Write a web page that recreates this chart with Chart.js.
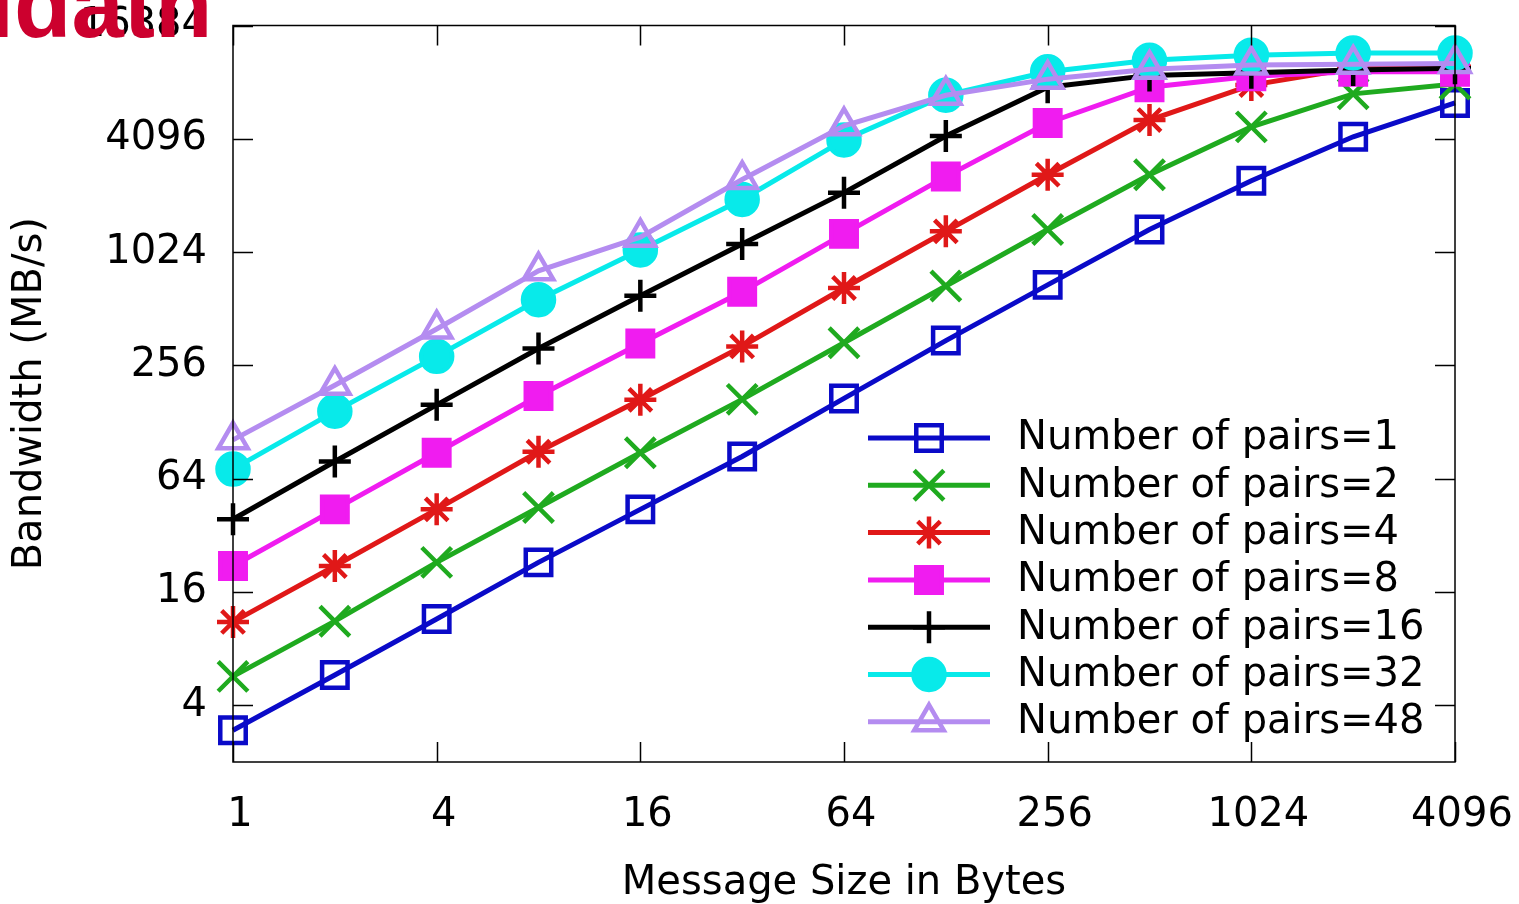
<!DOCTYPE html>
<html>
<head>
<meta charset="utf-8">
<script src="https://cdn.jsdelivr.net/npm/chart.js@4.4.1/dist/chart.umd.min.js"></script>
<style>
  html, body { margin: 0; padding: 0; background: #fff; }
  #wrap { position: relative; width: 1519px; height: 904px; overflow: hidden; }
  #c { position: absolute; left: 0; top: 0; }
  #mark { position: absolute; left: -12px; top: -42px; font-family: "Liberation Sans", Arial, sans-serif; font-weight: bold;
          font-size: 94px; line-height: 94px; color: #cc002e; z-index: 2; white-space: nowrap; }
</style>
</head>
<body>
<div id="wrap">
  <canvas id="c" width="1519" height="904"></canvas>
  <div id="mark">idatn</div>
</div>
<script>
// ---- data ----
const messageSizes = [1, 2, 4, 8, 16, 32, 64, 128, 256, 512, 1024, 2048, 4096];
const pairs1  = [2.95, 5.8, 11.5, 23, 44, 84, 171, 347, 686, 1350, 2450, 4200, 6350];
const pairs2  = [5.7, 11.2, 23, 45, 88, 169, 338, 676, 1350, 2640, 4740, 7100, 8000];
const pairs4  = [11.1, 22, 44, 89, 168, 323, 660, 1320, 2640, 5150, 7900, 9700, 9900];
const pairs8  = [22, 44, 88, 176, 335, 630, 1280, 2580, 4970, 7700, 8800, 9300, 9300];
const pairs16 = [39, 79, 158, 315, 600, 1130, 2120, 4240, 7700, 8900, 9200, 9500, 9700];
const pairs32 = [72, 146, 286, 572, 1050, 1950, 4040, 6980, 9300, 10700, 11400, 11700, 11700];
const pairs48 = [103, 201, 400, 814, 1230, 2490, 4800, 6980, 8500, 9600, 10100, 10200, 10300];
const seriesLabels = ['Number of pairs=1', 'Number of pairs=2', 'Number of pairs=4', 'Number of pairs=8',
                      'Number of pairs=16', 'Number of pairs=32', 'Number of pairs=48'];
const xTickValues = [1, 4, 16, 64, 256, 1024, 4096];
const yTickValues = [4, 16, 64, 256, 1024, 4096, 16384];

// ---- styles ----
const seriesValues = [pairs1, pairs2, pairs4, pairs8, pairs16, pairs32, pairs48];
const styles = [
  { color: '#0a0ac8', style: 'rect',     radius: 18,   fill: false },
  { color: '#1faa1f', style: 'crossRot', radius: 21,   fill: false },
  { color: '#e01818', style: 'star',     radius: 16,   fill: true  },
  { color: '#f01cf0', style: 'rect',     radius: 18,   fill: true  },
  { color: '#000000', style: 'cross',    radius: 16,   fill: false },
  { color: '#08eaea', style: 'circle',   radius: 15.5, fill: true  },
  { color: '#b48cf0', style: 'triangle', radius: 17,   fill: false }
];
const FONT = '"DejaVu Sans", sans-serif';
const LINE_W = 5, MARK_W = 4.5;

const datasets = seriesValues.map((vals, i) => ({
  label: seriesLabels[i],
  data: messageSizes.map((x, j) => ({ x: x, y: vals[j] })),
  borderColor: styles[i].color,
  backgroundColor: styles[i].fill ? styles[i].color : 'rgba(0,0,0,0)',
  pointBorderColor: styles[i].color,
  pointBackgroundColor: styles[i].fill ? styles[i].color : 'rgba(0,0,0,0)',
  pointStyle: styles[i].style,
  pointRadius: styles[i].radius,
  pointBorderWidth: MARK_W,
  borderWidth: LINE_W,
  tension: 0,
  clip: false,
  order: seriesValues.length - i
}));

const framePlugin = {
  id: 'frame',
  afterDatasetsDraw(chart) {
    const ctx = chart.ctx, a = chart.chartArea;
    const xs = chart.scales.x, ys = chart.scales.y;
    ctx.save();
    ctx.strokeStyle = '#000';
    ctx.lineWidth = 1.5;
    ctx.beginPath();
    yTickValues.forEach(v => {
      const py = Math.round(ys.getPixelForValue(v)) + 0.5;
      ctx.moveTo(a.left, py); ctx.lineTo(a.left + 20, py);
      ctx.moveTo(a.right, py); ctx.lineTo(a.right - 20, py);
    });
    xTickValues.forEach(v => {
      const px = Math.round(xs.getPixelForValue(v)) + 0.5;
      ctx.moveTo(px, a.bottom); ctx.lineTo(px, a.bottom - 20);
      ctx.moveTo(px, a.top); ctx.lineTo(px, a.top + 20);
    });
    ctx.stroke();
    ctx.strokeRect(a.left, a.top, a.right - a.left, a.bottom - a.top);

    // legend inside the plot
    const lx0 = 868, lx1 = 990, lmx = 929, tx = 1017, y0 = 438, dy = 47.3;
    chart.data.datasets.forEach((ds, i) => {
      const y = y0 + i * dy;
      ctx.strokeStyle = ds.borderColor;
      ctx.lineWidth = LINE_W;
      ctx.beginPath(); ctx.moveTo(lx0, y); ctx.lineTo(lx1, y); ctx.stroke();
      ctx.fillStyle = ds.pointBackgroundColor;
      ctx.strokeStyle = ds.pointBorderColor;
      ctx.lineWidth = MARK_W;
      Chart.helpers.drawPoint(ctx, { pointStyle: ds.pointStyle, radius: ds.pointRadius, borderWidth: MARK_W, rotation: 0 }, lmx, y);
      ctx.fillStyle = '#000';
      ctx.font = '40px ' + FONT;
      ctx.textBaseline = 'middle';
      ctx.textAlign = 'left';
      ctx.fillText(ds.label, tx, y + 1);
    });
    ctx.restore();
  }
};

new Chart(document.getElementById('c'), {
  type: 'line',
  data: { datasets: datasets },
  options: {
    responsive: false,
    animation: false,
    events: [],
    layout: { padding: { top: 21, right: 64, left: 0, bottom: 0 } },
    plugins: { legend: { display: false }, tooltip: { enabled: false } },
    scales: {
      x: {
        type: 'logarithmic',
        min: 1, max: 4096,
        grid: { display: false, drawTicks: false },
        border: { display: false },
        afterBuildTicks: s => { s.ticks = xTickValues.map(v => ({ value: v })); },
        afterFit: s => { s.height = 142; s.paddingLeft = 0; s.paddingRight = 0; },
        ticks: { autoSkip: false, maxRotation: 0, padding: 30, labelOffset: 7, color: '#000',
                 font: { family: FONT, size: 40 }, callback: v => String(v) },
        title: { display: true, text: 'Message Size in Bytes', color: '#000',
                 font: { family: FONT, size: 40, lineHeight: 1.0 }, padding: { top: 0, bottom: 0 } }
      },
      y: {
        type: 'logarithmic',
        min: 2, max: 16384,
        grid: { display: false, drawTicks: false },
        border: { display: false },
        afterBuildTicks: s => { s.ticks = yTickValues.map(v => ({ value: v })); },
        afterFit: s => { s.width = 233; s.paddingTop = 0; s.paddingBottom = 0; },
        ticks: { autoSkip: false, padding: 26, color: '#000',
                 font: { family: FONT, size: 40 }, callback: v => String(v) },
        title: { display: true, text: 'Bandwidth (MB/s)', color: '#000',
                 font: { family: FONT, size: 40 }, padding: { top: 7, bottom: 0 } }
      }
    }
  },
  plugins: [framePlugin]
});
</script>
</body>
</html>
